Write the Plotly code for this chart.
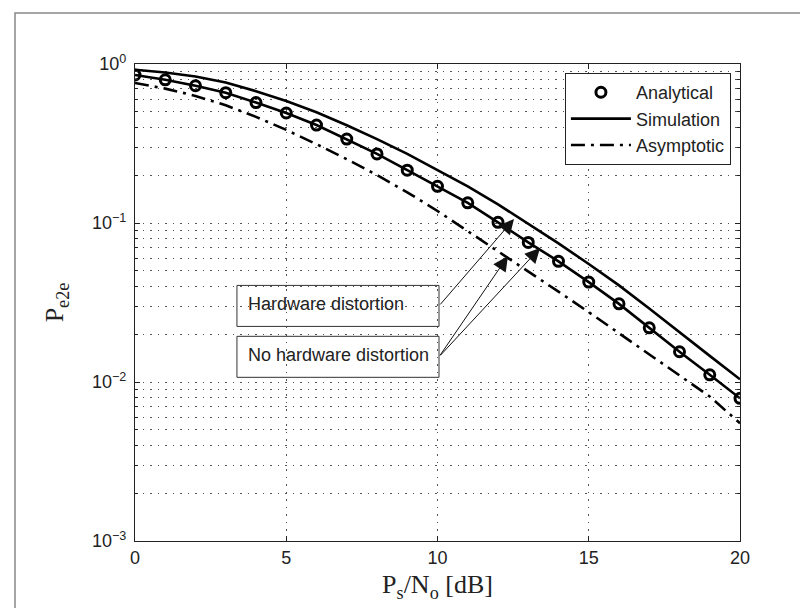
import math
import plotly.graph_objects as go

snr_db = list(range(0, 21))

# Analytical (no hardware distortion) - circles
analytical = [0.853, 0.795, 0.730, 0.660, 0.572, 0.492, 0.413, 0.337, 0.272, 0.215,
              0.170, 0.134, 0.101, 0.0755, 0.0574, 0.0425, 0.0310, 0.0219, 0.0155, 0.0111, 0.0079]
# Simulation, no hardware distortion (through circles)
sim_nohw = analytical[:]
# Simulation, with hardware distortion (upper solid)
sim_hw = [0.92, 0.885, 0.835, 0.765, 0.675, 0.585, 0.497, 0.412, 0.337, 0.272,
          0.215, 0.170, 0.131, 0.099, 0.0745, 0.0552, 0.0405, 0.0290, 0.0205, 0.0146, 0.0104]
# Asymptotic (dash-dot)
asymptotic = [0.76, 0.70, 0.63, 0.55, 0.465, 0.385, 0.313, 0.252, 0.200, 0.156,
              0.119, 0.089, 0.067, 0.050, 0.037, 0.0275, 0.0203, 0.0150, 0.0110, 0.0081, 0.0055]

ytick_vals = [1e-3, 1e-2, 1e-1, 1]
ytick_text = ["10<sup>\u22123</sup>", "10<sup>\u22122</sup>", "10<sup>\u22121</sup>", "10<sup>0</sup>"]
yminor_vals = [m * 10.0 ** e for e in (-3, -2, -1) for m in range(2, 10)]
xtick_vals = [0, 5, 10, 15, 20]

# annotation texts and anchor values
box_texts = ["Hardware distortion", "No hardware distortion"]
box_centers = [0.0301, 0.0144]          # y value at the middle of each box
box_x_range = [3.37, 10.05]
arrow_heads = [(12.53, 0.106), (12.33, 0.062), (13.39, 0.0697)]
arrow_from_box = [0, 1, 1]

fig = go.Figure()
fig.add_trace(go.Scatter(x=snr_db, y=analytical, mode="markers", name="Analytical",
                         marker=dict(symbol="circle-open", size=10, color="black",
                                     line=dict(width=3, color="black"))))
fig.add_trace(go.Scatter(x=snr_db, y=sim_hw, mode="lines", name="Simulation",
                         line=dict(color="black", width=2.6)))
fig.add_trace(go.Scatter(x=snr_db, y=sim_nohw, mode="lines", name="Simulation",
                         showlegend=False, line=dict(color="black", width=2.6)))
fig.add_trace(go.Scatter(x=snr_db, y=asymptotic, mode="lines", name="Asymptotic",
                         line=dict(color="black", width=2.6, dash="14px,6px,3px,6px")))

L, R, T, B = 127, 732, 56, 533
W, H = 808, 608

font_sans = "Liberation Sans, Arial, sans-serif"
font_serif = "Liberation Serif, Times New Roman, serif"
grid_dash = "1.5px,6px"
grid_col = "#555"

fig.update_layout(
    width=W, height=H,
    margin=dict(l=L, r=W - R, t=T, b=H - B),
    paper_bgcolor="white", plot_bgcolor="white",
    font=dict(family=font_sans, size=18, color="#222"),
    showlegend=True,
    legend=dict(x=0.985, y=0.981, xanchor="right", yanchor="top",
                bordercolor="#222", borderwidth=1, bgcolor="white",
                font=dict(family=font_sans, size=18, color="#222"),
                tracegroupgap=0, itemwidth=60),
)

fig.update_xaxes(
    range=[0, 20], tickvals=xtick_vals, ticks="inside", ticklen=5, tickwidth=1,
    tickcolor="#222", showline=True, linecolor="#222", linewidth=1.2, mirror="ticks",
    showgrid=True, gridcolor=grid_col, griddash=grid_dash, gridwidth=1, zeroline=False,
    tickfont=dict(family=font_sans, size=18, color="#222"),
    title=dict(text="P<sub>s</sub>/N<sub>o</sub> [dB]", font=dict(family=font_serif, size=26, color="#222"), standoff=8),
)
fig.update_yaxes(
    type="log", range=[-3, 0], tickmode="array", tickvals=ytick_vals, ticktext=ytick_text,
    ticks="inside", ticklen=5, tickwidth=1, tickcolor="#222",
    showline=True, linecolor="#222", linewidth=1.2, mirror="ticks",
    showgrid=True, gridcolor=grid_col, griddash=grid_dash, gridwidth=1,
    minor=dict(tickmode="array", tickvals=yminor_vals, ticks="inside", ticklen=3,
               tickcolor="#222", showgrid=True, gridcolor=grid_col, griddash=grid_dash, gridwidth=1),
    tickfont=dict(family=font_sans, size=18, color="#222"),
    ticklabelstandoff=4,
    title=dict(text="P<sub>e2e</sub>", font=dict(family=font_serif, size=26, color="#222"), standoff=20),
)

# Text boxes: rectangle (paper y) + left-aligned text
box_half_px = 20.5
for txt, yc in zip(box_texts, box_centers):
    frac = (math.log10(yc) + 3) / 3
    dh = box_half_px / (B - T)
    fig.add_shape(type="rect", xref="x", yref="paper",
                  x0=box_x_range[0], x1=box_x_range[1], y0=frac - dh, y1=frac + dh,
                  line=dict(color="#333", width=1))
    fig.add_annotation(x=box_x_range[0], y=math.log10(yc), xref="x", yref="y",
                       xanchor="left", yanchor="middle", xshift=9, yshift=2,
                       text=txt, showarrow=False, align="left",
                       font=dict(family=font_sans, size=18, color="#222"))

# Arrows from the right edge of the boxes to the curves
for (hx, hy), bi in zip(arrow_heads, arrow_from_box):
    fig.add_annotation(x=hx, y=math.log10(hy), ax=box_x_range[1], ay=math.log10(box_centers[bi]),
                       xref="x", yref="y", axref="x", ayref="y",
                       text="", showarrow=True, arrowhead=2, arrowsize=3, arrowwidth=1,
                       arrowcolor="#111")

# Outer figure border
fig.add_shape(type="rect", xref="paper", yref="paper",
              x0=(7 - L) / (R - L), x1=(802 - L) / (R - L),
              y0=(B - 605) / (B - T), y1=(B - 5) / (B - T),
              line=dict(color="#888", width=1.5))

fig.write_html("out.html")
